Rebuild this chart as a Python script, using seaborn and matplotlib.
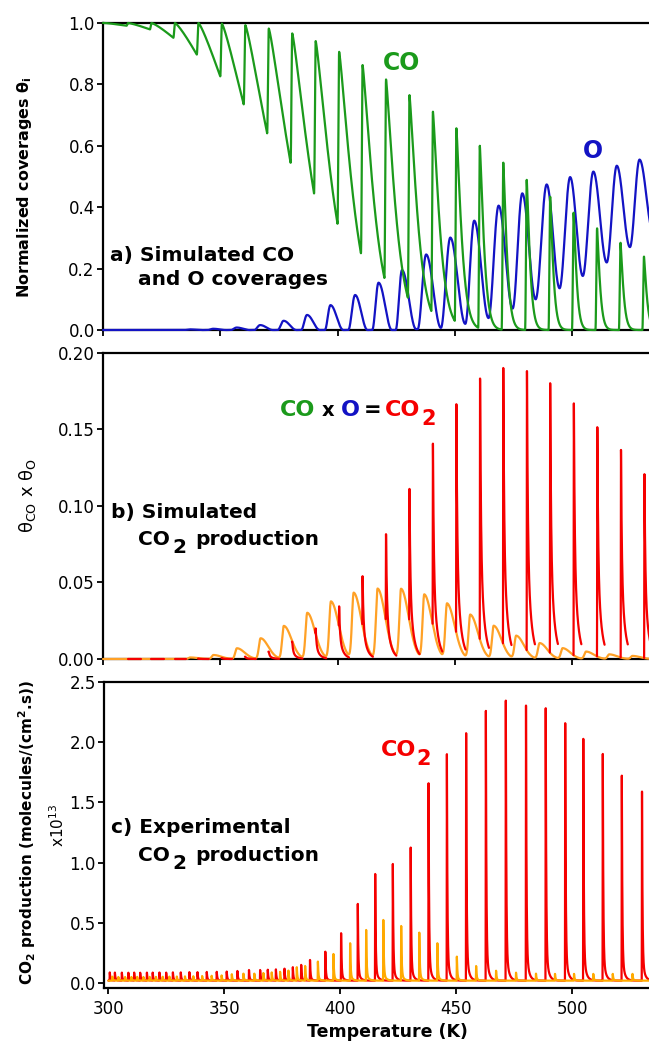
import numpy as np
import pandas as pd
import matplotlib
matplotlib.use("Agg")
import matplotlib.pyplot as plt
import seaborn as sns

# ---------------------------------------------------------------
# Data
# ---------------------------------------------------------------
# (a) simulated CO coverage: pulse onsets (K), pulse maxima, decay widths (K)
co_rise_T = [300, 310, 320, 330, 340, 350, 360, 370, 380, 390, 400, 410,
             420, 430, 440, 450, 460, 470, 480, 490, 500, 510, 520, 530]
co_peak = [1.000, 1.000, 1.000, 1.000, 1.000, 0.998, 0.993, 0.982, 0.966, 0.941,
           0.906, 0.863, 0.816, 0.765, 0.711, 0.657, 0.600, 0.545, 0.489, 0.434,
           0.382, 0.331, 0.284, 0.239]
co_decay_K = [397, 203, 103, 55, 35, 24, 18, 14.2, 11.4, 9.3, 7.6, 6.3,
              5.25, 4.45, 3.7, 2.8, 2.2, 1.9, 1.7, 1.6, 1.5, 1.5, 1.5, 1.5]

# (a) simulated O coverage: start of rise, value there, maximum, end of fall
o_rise_T = [334.5, 344.5, 354.5, 364.5, 374.5, 384.5, 394.6, 404.6, 414.8, 424.8,
            434.2, 444.1, 454.5, 464.4, 474.7, 484.5, 494.7, 504.6, 514.8, 524.7]
o_min = [0, 0, 0, 0, 0, 0, 0, 0, 0, 0,
         0.003, 0.007, 0.020, 0.039, 0.070, 0.100, 0.136, 0.176, 0.220, 0.270]
o_peak_T = [337.0, 347.0, 357.0, 367.0, 377.0, 387.0, 397.0, 407.5, 417.5, 427.5,
            437.8, 448.1, 458.3, 468.7, 478.8, 489.2, 499.2, 509.1, 519.1, 528.8]
o_peak = [0.002, 0.004, 0.008, 0.016, 0.030, 0.049, 0.081, 0.114, 0.154, 0.195,
          0.246, 0.301, 0.356, 0.405, 0.445, 0.474, 0.498, 0.516, 0.535, 0.555]
o_fall_end_T = [342.5, 352.5, 362.5, 372.5, 382.5, 392.5, 402.5, 412.8, 423.2, 433.5,
                444.1, 454.5, 464.4, 474.7, 484.5, 494.7, 504.6, 514.8, 524.7, 534.6]
o_last_min = 0.32

# (b) simulated CO2 production
sim_orange_T = [337.2, 347.1, 357.1, 367.2, 377.1, 387.1, 397.2, 406.9, 417.1, 427.1,
                437.0, 446.7, 456.6, 466.6, 476.2, 486.2, 496.0, 506.0, 515.9, 525.8]
sim_orange_peak = [0.001, 0.0026, 0.007, 0.0135, 0.0215, 0.030, 0.0374, 0.0429,
                   0.0457, 0.0455, 0.0418, 0.0359, 0.0287, 0.0215, 0.015, 0.0103,
                   0.007, 0.0048, 0.003, 0.002]
sim_red_T = [310.7, 320.7, 330.7, 340.7, 350.7, 360.7, 370.7, 380.7, 390.7, 400.7,
             410.7, 420.7, 430.7, 440.7, 450.7, 460.8, 470.7, 480.8, 490.7, 500.8,
             510.8, 520.9, 530.9]
sim_red_peak = [0.0, 0.0, 0.0, 0.0003, 0.0007, 0.0015, 0.0048, 0.0113, 0.020, 0.0345,
                0.0544, 0.0821, 0.112, 0.1419, 0.168, 0.185, 0.192, 0.190, 0.182,
                0.1687, 0.153, 0.138, 0.122]

# (c) experimental CO2 production (units of 1e13 molecules/(cm2 s))
exp_red_T = [300.6, 302.8, 305.8, 308.6, 311.1, 313.7, 316.6, 319.1, 322.0, 324.9,
             327.8, 331.2, 334.9, 338.4, 342.4, 346.7, 351.0, 355.6, 360.6, 365.4,
             368.7, 372.2, 375.9, 379.5, 383.1, 386.9, 393.5, 400.3, 407.5, 415.0,
             422.6, 430.3, 438.0, 445.9, 454.2, 462.7, 471.3, 480.0, 488.5, 496.9,
             504.7, 513.1, 521.3, 530.0]
exp_red_peak = [0.090, 0.088, 0.088, 0.087, 0.088, 0.087, 0.088, 0.088, 0.089, 0.088,
                0.090, 0.090, 0.092, 0.092, 0.094, 0.095, 0.097, 0.102, 0.110, 0.110,
                0.112, 0.115, 0.121, 0.133, 0.152, 0.193, 0.262, 0.415, 0.658, 0.906,
                0.989, 1.125, 1.658, 1.899, 2.073, 2.258, 2.343, 2.302, 2.280, 2.156,
                2.026, 1.901, 1.721, 1.589]
exp_orange_T = [301.7, 304.3, 307.2, 309.9, 312.4, 315.1, 317.8, 320.5, 323.4, 326.3,
                329.5, 333.0, 336.6, 340.4, 344.5, 348.8, 353.2, 358.2, 362.9, 366.8,
                370.4, 374.0, 377.6, 381.2, 384.8, 390.3, 397.0, 404.2, 411.1, 418.5,
                426.2, 434.0, 441.8, 450.2, 458.5, 467.1, 475.7, 484.3, 492.5, 500.7,
                509.0, 517.4, 525.9]
exp_orange_peak = [0.055, 0.052, 0.052, 0.052, 0.053, 0.052, 0.053, 0.053, 0.054, 0.055,
                   0.056, 0.057, 0.058, 0.060, 0.062, 0.065, 0.075, 0.080, 0.080, 0.085,
                   0.090, 0.095, 0.105, 0.133, 0.143, 0.180, 0.243, 0.332, 0.442, 0.525,
                   0.475, 0.420, 0.332, 0.221, 0.143, 0.104, 0.088, 0.080, 0.078, 0.078,
                   0.078, 0.078, 0.078]

# ---------------------------------------------------------------
# colours / style
# ---------------------------------------------------------------
GREEN = "#1b9a1b"
BLUE = "#1313c4"
RED = "#f50000"
ORANGE_B = "#ffa126"
ORANGE_C = "#ffaa00"

sns.set_style("ticks")
plt.rcParams["font.family"] = ["DejaVu Sans"]
plt.rcParams["mathtext.default"] = "regular"
plt.rcParams["text.color"] = "black"
plt.rcParams["axes.labelcolor"] = "black"

W, H = 649, 1044
fig = plt.figure(figsize=(W / 100, H / 100), dpi=100)


def rect(l, t, r, b):
    return [l / W, 1 - b / H, (r - l) / W, (b - t) / H]


axA = fig.add_axes(rect(103, 23, 649, 330))
axB = fig.add_axes(rect(103, 352.7, 649, 659))
axC = fig.add_axes(rect(104, 681.7, 649, 988))

T = np.arange(300.0, 535.0, 0.02)


def ease(s):
    s = np.clip(s, 0, 1)
    return 0.5 - 0.5 * np.cos(np.pi * s)


def two_exp(tau, w, t1, t2):
    tau = np.clip(tau, 0, None)
    return (1 - w) * np.exp(-tau / t1) + w * np.exp(-tau / t2)


# ----- CO coverage trace
co = np.ones_like(T)
prev = co_peak[0]
RISE = 0.7
for k, t0 in enumerate(co_rise_T):
    t1 = co_rise_T[k + 1] if k + 1 < len(co_rise_T) else T[-1] + 1
    m = (T >= t0) & (T < t1)
    tau = T[m] - t0
    P, d = co_peak[k], co_decay_K[k]
    dec = P * np.exp(-(np.clip(tau - RISE, 0, None) / d) ** 1.25)
    co[m] = np.where(tau < RISE, prev + (P - prev) * ease(tau / RISE), dec)
    prev = P * np.exp(-((t1 - t0 - RISE) / d) ** 1.25)

# ----- O coverage trace
ox = np.zeros_like(T)
n = len(o_peak)
for j in range(n):
    nxt = o_min[j + 1] if j + 1 < n else o_last_min
    m = (T >= o_rise_T[j]) & (T < o_peak_T[j])
    ox[m] = o_min[j] + (o_peak[j] - o_min[j]) * ease((T[m] - o_rise_T[j]) / (o_peak_T[j] - o_rise_T[j]))
    m = (T >= o_peak_T[j]) & (T < o_fall_end_T[j])
    ox[m] = o_peak[j] + (nxt - o_peak[j]) * ease((T[m] - o_peak_T[j]) / (o_fall_end_T[j] - o_peak_T[j]))
    hold_end = o_rise_T[j + 1] if j + 1 < n else T[-1] + 1
    m = (T >= o_fall_end_T[j]) & (T < hold_end)
    ox[m] = nxt

# ----- simulated production (orange)
sim_or = np.zeros_like(T)
for tp, P in zip(sim_orange_T, sim_orange_peak):
    tau = T - tp
    sim_or += P * np.where(tau < 0, np.exp(-(tau / 1.0) ** 2), np.exp(-(tau / 4.6) ** 2))

# ----- simulated production (red), one segment per pulse
red_parts = []
for k, (s, R) in enumerate(zip(sim_red_T, sim_red_peak)):
    later = [o for o in sim_orange_T if o > s]
    e = s + 5.5
    if later:
        e = min(e, later[0] - 2.0)
    e = min(e, T[-1])
    tt = np.arange(s - 0.15, e, 0.02)
    start = min(np.interp(s - 0.15, T, sim_or), R)
    v = np.where(tt < s, start + (R - start) * ease((tt - (s - 0.15)) / 0.15),
                 R * two_exp(tt - s, 0.42, 0.35, 1.6))
    red_parts.append(pd.DataFrame({"T": tt, "v": v, "seg": k}))
red_df = pd.concat(red_parts, ignore_index=True)


# ----- experimental traces
def exp_trace(times, peaks, base=0.022, w=0.12, t1=0.22, t2=1.0):
    y = np.full_like(T, base)
    for t, p in zip(times, peaks):
        tau = T - t
        a = p - base
        y += np.where(tau < -0.12, 0.0,
                      np.where(tau < 0, a * ease((tau + 0.12) / 0.12), a * two_exp(tau, w, t1, t2)))
    return y


exp_red = exp_trace(exp_red_T, exp_red_peak)
exp_or = exp_trace(exp_orange_T, exp_orange_peak)

# ---------------------------------------------------------------
# draw
# ---------------------------------------------------------------
LW = 1.6
kw = dict(estimator=None, sort=False, lw=LW, clip_on=False, zorder=3)
sns.lineplot(x=T, y=ox, ax=axA, color=BLUE, **kw)
sns.lineplot(x=T, y=co, ax=axA, color=GREEN, **kw)

sns.lineplot(x=T, y=sim_or, ax=axB, color=ORANGE_B, **kw)
sns.lineplot(data=red_df, x="T", y="v", units="seg", ax=axB, color=RED,
             estimator=None, sort=False, lw=LW, clip_on=False, zorder=3)

sns.lineplot(x=T, y=exp_red, ax=axC, color=RED, **kw)
sns.lineplot(x=T, y=exp_or, ax=axC, color=ORANGE_C, **kw)

xmaxA = 300 + (649 - 103) / 2.345
axA.set_xlim(300, xmaxA)
axB.set_xlim(300, xmaxA)
axC.set_xlim(298.1, 298.1 + (649 - 104) / 2.32)
axA.set_ylim(0, 1.0)
axB.set_ylim(0, 0.2)
axC.set_ylim(-0.039, 2.5)

axA.set_yticks([0, 0.2, 0.4, 0.6, 0.8, 1.0])
axA.set_yticklabels(["0.0", "0.2", "0.4", "0.6", "0.8", "1.0"])
axB.set_yticks([0, 0.05, 0.10, 0.15, 0.20])
axB.set_yticklabels(["0.00", "0.05", "0.10", "0.15", "0.20"])
axC.set_yticks([0, 0.5, 1.0, 1.5, 2.0, 2.5])
axC.set_yticklabels(["0.0", "0.5", "1.0", "1.5", "2.0", "2.5"])
for ax in (axA, axB, axC):
    ax.set_xticks([300, 350, 400, 450, 500])
    ax.set_xlabel("")
    ax.set_ylabel("")
    ax.spines["right"].set_visible(False)
    for sp in ("left", "top", "bottom"):
        ax.spines[sp].set_linewidth(1.6)
        ax.spines[sp].set_color("black")
    ax.tick_params(axis="both", direction="out", length=4.5, width=1.3,
                   labelsize=12, pad=1.5, colors="black")
    ax.patch.set_alpha(0)
axA.tick_params(axis="x", labelbottom=False)
axB.tick_params(axis="x", labelbottom=False)
axC.tick_params(axis="x", pad=4)


def ftext(x, y, s, **k):
    k.setdefault("va", "baseline")
    k.setdefault("ha", "left")
    k.setdefault("color", "black")
    return fig.text(x / W, 1 - y / H, s, **k)


BOLD = dict(fontweight="bold")
# panel a texts
ftext(110, 261, "a) Simulated CO", fontsize=14.5, **BOLD)
ftext(138, 285, "and O coverages", fontsize=14.5, **BOLD)
ftext(383, 70, "CO", fontsize=17, color=GREEN, **BOLD)
ftext(583, 158, "O", fontsize=17, color=BLUE, **BOLD)

# panel b texts
ftext(111, 518, "b) Simulated", fontsize=14.5, **BOLD)
ftext(138, 545, "CO", fontsize=14.5, **BOLD)
ftext(172, 553, "2", fontsize=14.5, **BOLD)
ftext(195, 545, "production", fontsize=14.5, **BOLD)
ftext(280, 416, "CO", fontsize=16, color=GREEN, **BOLD)
ftext(322, 416, "x", fontsize=14, **BOLD)
ftext(341, 416, "O", fontsize=16, color=BLUE, **BOLD)
ftext(364, 416, "=", fontsize=15, **BOLD)
ftext(385, 416, "CO", fontsize=16, color=RED, **BOLD)
ftext(421, 425, "2", fontsize=15, color=RED, **BOLD)

# panel c texts
ftext(111, 833, "c) Experimental", fontsize=14.5, **BOLD)
ftext(138, 861, "CO", fontsize=14.5, **BOLD)
ftext(172, 869, "2", fontsize=14.5, **BOLD)
ftext(195, 861, "production", fontsize=14.5, **BOLD)
ftext(381, 756, "CO", fontsize=16, color=RED, **BOLD)
ftext(416, 765, "2", fontsize=15, color=RED, **BOLD)

# axis labels
ftext(25, 187, "Normalized coverages θ$_{i}$", fontsize=11.5, rotation=90,
      ha="center", va="center", **BOLD)
ftext(28, 496, "θ$_{CO}$ x θ$_{O}$", fontsize=13, rotation=90, ha="center", va="center")
ftext(27, 833, r"CO$_{\mathbf{2}}$ production (molecules/(cm$^{\mathbf{2}}$.s))", fontsize=11,
      rotation=90, ha="center", va="center", **BOLD)
ftext(58, 825, "x10$^{13}$", fontsize=11, rotation=90, ha="center", va="center")
ftext(387, 1032, "Temperature (K)", fontsize=12.5, ha="center", va="center", **BOLD)

fig.savefig("out.png", dpi=100)
